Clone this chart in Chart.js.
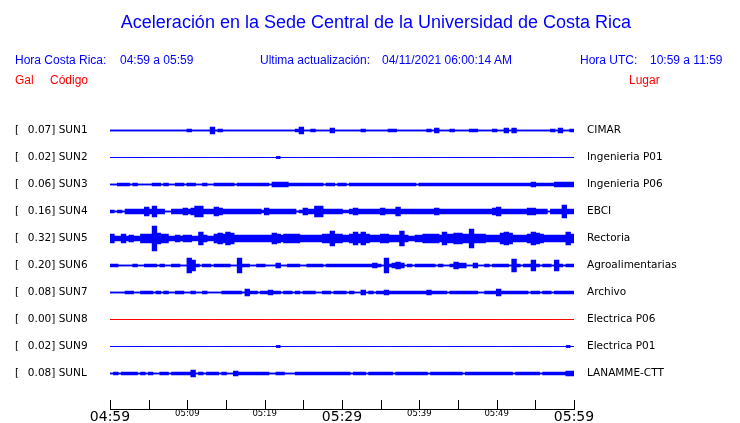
<!DOCTYPE html>
<html><head><meta charset="utf-8">
<script src="https://cdn.jsdelivr.net/npm/chart.js@4"></script>
<style>
html,body{margin:0;padding:0;background:#fff;}
#wrap{position:relative;width:740px;height:423px;overflow:hidden;background:#fff;}
canvas{position:absolute;left:0;top:0;}
.t{position:absolute;white-space:pre;font-family:"Liberation Sans",Arial,sans-serif;line-height:14px;}
.b{color:#0000ff;font-size:12px;}
.r{color:#ff0000;font-size:12px;}
</style></head><body>
<div id="wrap">
<canvas id="c" width="740" height="423"></canvas>
<div class="t" style="left:6px;width:740px;text-align:center;top:12px;font-size:18px;line-height:20px;color:#0000ff;">Aceleración en la Sede Central de la Universidad de Costa Rica</div>
<div class="t b" style="left:15px;top:53px">Hora Costa Rica:</div>
<div class="t b" style="left:120px;top:53px">04:59 a 05:59</div>
<div class="t b" style="left:260px;top:53px">Ultima actualización:</div>
<div class="t b" style="left:382px;top:53px">04/11/2021 06:00:14 AM</div>
<div class="t b" style="left:580px;top:53px">Hora UTC:</div>
<div class="t b" style="left:650px;top:53px">10:59 a 11:59</div>
<div class="t r" style="left:15px;top:73px">Gal</div>
<div class="t r" style="left:50px;top:73px">Código</div>
<div class="t r" style="left:629px;top:73px">Lugar</div>
</div>
<script>
// ---- data ----
const CODES  = ['SUN1','SUN2','SUN3','SUN4','SUN5','SUN6','SUN7','SUN8','SUN9','SUNL'];
const PEAK_GAL = [0.07, 0.02, 0.06, 0.16, 0.32, 0.20, 0.08, 0.00, 0.02, 0.08];
const PLACES = ['CIMAR','Ingenieria P01','Ingenieria P06','EBCI','Rectoria','Agroalimentarias','Archivo','Electrica P06','Electrica P01','LANAMME-CTT'];
// time axis: minutes after 04:59 (04:59 .. 05:59)
const TICK_MINUTES = [0,5,10,15,20,25,30,35,40,45,50,55,60];
const TICK_LABELS  = ['04:59','','05:09','','05:19','','05:29','','05:39','','05:49','','05:59'];
const MAJOR_LABELS = ['04:59','05:29','05:59'];
// envelope half-amplitude read per half-minute bin (120 bins, base-36 digits, groups of 5 bins)
const BIN_MINUTES = 0.5;
const ENVELOPES = [
 "00000 00000 00000 00000 10000 03010 00000 00000 00000 00013 00100 00200 00000 10000 00110 00000 00102 00010 00011 00001 00202 00000 00001 02001",
 "00000 00000 00000 00000 00000 00000 00000 00000 00010 00000 00000 00000 00000 00000 00000 00000 00000 00000 00000 00000 00000 00000 00000 00000",
 "00111 01000 01101 00110 11001 00111 11011 11111 10222 21111 11111 01101 10111 11111 11111 11110 11111 11111 11111 11111 11111 11112 11111 22222",
 "10102 22224 25220 02223 23552 22432 22222 22221 32222 22201 32255 22222 11232 22222 32224 22222 22223 22222 22222 22223 42222 22233 22202 22622",
 "42242 32244 4c544 22323 32263 22454 65333 33333 33543 44443 33333 44744 33464 64333 44333 73223 34444 36445 54494 44333 35653 33346 54333 33364",
 "11000 01001 11010 01100 75101 10111 10071 10011 00020 01110 01111 01111 11111 11121 07123 20101 11110 10013 22002 00101 11106 10115 10110 51011",
 "00001 10011 10101 00110 01001 00001 11110 31101 12110 11010 11100 11011 10100 20101 12111 11111 11211 11011 11111 00111 31111 11101 10110 11111",
 "00000 00000 00000 00000 00000 00000 00000 00000 00000 00000 00000 00000 00000 00000 00000 00000 00000 00000 00000 00000 00000 00000 00000 00000",
 "00000 00000 00000 00000 00000 00000 00000 00000 00010 00000 00000 00000 00000 00000 00000 00000 00000 00000 00000 00000 00000 00000 00000 00010",
 "01011 11010 10011 01111 13010 11101 00211 11111 10011 00011 11111 11111 11011 10111 11101 11111 11011 11111 10111 11111 11110 11111 10111 11122"
];

// ---- styles ----
const TRACE_COLORS = ['#0000ff','#0000ff','#0000ff','#0000ff','#0000ff','#0000ff','#0000ff','#ff0000','#0000ff','#0000ff'];
const TRACE_WIDTHS = [1.5,1,1.5,1.5,1.5,1.5,1.5,1,1,1.5];
const TRACE_SPACING_PX = 27;   // px between trace baselines
const FIRST_OFFSET_PX = 13.5;  // first baseline below top of plot

const datasets = [];
CODES.forEach((code, k) => {
  const amps = ENVELOPES[k].replace(/\s+/g,'').split('').map(ch => parseInt(ch, 36));
  const n = amps.length;
  const upper = [], lower = [];
  const push = (t, a) => {
    upper.push({x: t, y: k - a / TRACE_SPACING_PX});
    lower.push({x: t, y: k + a / TRACE_SPACING_PX});
  };
  push(0, amps[0]);
  amps.forEach((a, i) => push((i + 0.5) * BIN_MINUTES, a));
  push(n * BIN_MINUTES, amps[n - 1]);
  const base = { borderColor: TRACE_COLORS[k], backgroundColor: TRACE_COLORS[k], borderWidth: TRACE_WIDTHS[k],
    pointRadius: 0, tension: 0, stepped: 'middle', borderJoinStyle: 'miter', yAxisID: 'y' };
  datasets.push(Object.assign({label: code + ' +', data: upper, fill: false}, base));
  datasets.push(Object.assign({label: code + ' -', data: lower, fill: '-1'}, base));
});

const plotTop = 117, plotBottom = 409, plotLeft = 110, plotRight = 574;
const yMin = -FIRST_OFFSET_PX / TRACE_SPACING_PX;
const yMax = yMin + (plotBottom - plotTop) / TRACE_SPACING_PX;
const traceTicks = s => { s.ticks = CODES.map((c, k) => ({value: k})); };
const galLabel = k => '[  \u2009' + PEAK_GAL[k].toFixed(2) + '] ' + CODES[k];

const tickMarks = {
  id: 'tickMarks',
  afterDraw(chart) {
    const s = chart.scales.x, ctx = chart.ctx, b = chart.chartArea.bottom;
    ctx.save(); ctx.strokeStyle = '#000'; ctx.lineWidth = 1;
    s.ticks.forEach(t => {
      const x = Math.round(s.getPixelForValue(t.value)) + 0.5;
      ctx.beginPath(); ctx.moveTo(x, b); ctx.lineTo(x, b - 9); ctx.stroke();
    });
    ctx.restore();
  }
};

new Chart(document.getElementById('c'), {
  type: 'line',
  data: { datasets },
  options: {
    responsive: false, animation: false, normalized: true,
    layout: { padding: { left: 15, right: 0, top: plotTop, bottom: 0 } },
    plugins: { legend: { display: false }, tooltip: { enabled: false }, title: { display: false } },
    scales: {
      x: {
        type: 'linear', position: 'bottom', min: 0, max: 60,
        afterBuildTicks: s => { s.ticks = TICK_MINUTES.map(v => ({value: v})); },
        afterFit: s => { s.height = 423 - plotBottom; },
        grid: { display: false, drawTicks: false },
        border: { display: true, color: '#000', width: 1 },
        ticks: {
          autoSkip: false, maxRotation: 0, padding: 0, color: '#000',
          callback: (v) => TICK_LABELS[TICK_MINUTES.indexOf(v)],
          font: (ctx) => {
            const lbl = TICK_LABELS[TICK_MINUTES.indexOf(ctx.tick ? ctx.tick.value : -1)];
            return MAJOR_LABELS.includes(lbl) ? {family: 'DejaVu Sans', size: 14} : {family: 'DejaVu Sans', size: 8.5};
          }
        }
      },
      y: {
        type: 'linear', position: 'left', reverse: true, min: yMin, max: yMax,
        afterBuildTicks: traceTicks,
        afterFit: s => { s.width = plotLeft - 15; },
        grid: { display: false, drawTicks: false }, border: { display: false },
        ticks: { crossAlign: 'far', padding: 0, color: '#000', font: {family: 'DejaVu Sans', size: 10.5},
          callback: (v) => galLabel(v) }
      },
      y2: {
        type: 'linear', position: 'right', reverse: true, min: yMin, max: yMax,
        afterBuildTicks: traceTicks,
        afterFit: s => { s.width = 740 - plotRight; },
        grid: { display: false, drawTicks: true, tickLength: 13 }, border: { display: false },
        ticks: { crossAlign: 'near', padding: 0, color: '#000', font: {family: 'DejaVu Sans', size: 10.5},
          callback: (v) => PLACES[v] }
      }
    }
  },
  plugins: [tickMarks]
});
</script>
</body></html>
